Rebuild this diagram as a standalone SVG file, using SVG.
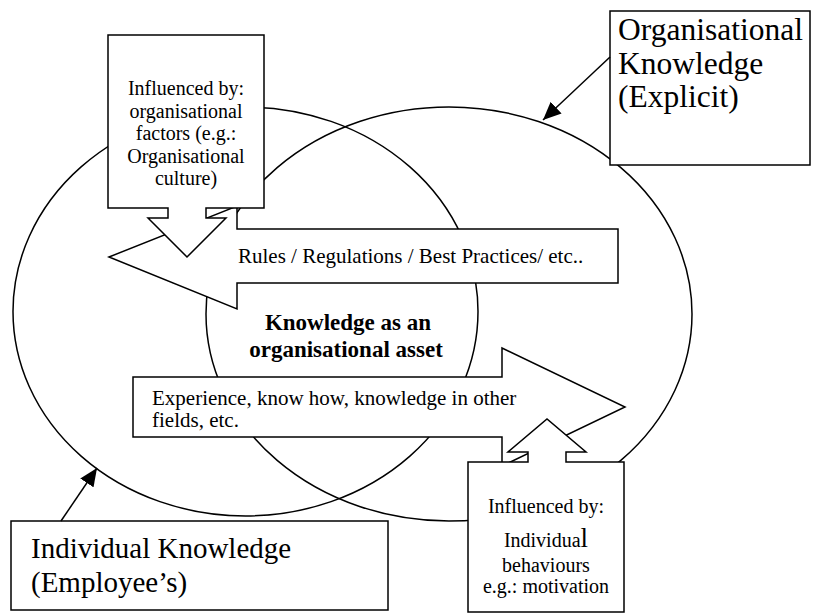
<svg xmlns="http://www.w3.org/2000/svg" width="820" height="614" viewBox="0 0 820 614">
  <style>
    .ln { fill: none; stroke: #000; stroke-width: 1.5; }
    .shape { fill: #fff; stroke: #000; stroke-width: 1.5; stroke-linejoin: miter; }
    .t { font-family: "Liberation Serif", "Times New Roman", serif; fill: #000; }
    .c20 { font-size: 20px; text-anchor: middle; }
    .a21 { font-size: 21px; }
    .bold { font-size: 23px; font-weight: bold; text-anchor: middle; }
    .big1 { font-size: 29px; }
    .big2 { font-size: 31.5px; }
  </style>
  <defs>
    <marker id="head" markerUnits="userSpaceOnUse" markerWidth="18" markerHeight="16" refX="18" refY="8" orient="auto">
      <path d="M0,0 L18,8 L0,16 Z" fill="#000"/>
    </marker>
  </defs>
  <rect width="820" height="614" fill="#fff"/>

  <g id="ellipse-individual">
    <ellipse class="ln" cx="245.5" cy="311.5" rx="232.5" ry="204.5"/>
  </g>
  <g id="ellipse-organisational">
    <ellipse class="ln" cx="449" cy="314" rx="243" ry="207"/>
  </g>

  <g id="center-label">
    <text class="t bold" x="348" y="330">Knowledge as an</text>
    <text class="t bold" x="346" y="357">organisational asset</text>
  </g>

  <g id="arrow-rules">
    <polygon class="shape" points="109,257 237,206 237,229 618,229 618,283 237,283 237,309"/>
    <text class="t a21" x="238" y="263">Rules / Regulations / Best Practices/ etc..</text>
  </g>

  <g id="arrow-experience">
    <polygon class="shape" points="133,377 502,377 502,348 625,407 502,466 502,437 133,437"/>
    <text class="t a21" x="152" y="405">Experience, know how, knowledge in other</text>
    <text class="t a21" x="152" y="427">fields, etc.</text>
  </g>

  <g id="callout-organisational-factors">
    <path class="shape" d="M108,35 H264 V208 H206 V218 H226 L187,257 L148,218 H168 V208 H108 Z"/>
    <text class="t c20" x="186" y="95">Influenced by:</text>
    <text class="t c20" x="186" y="117.5">organisational</text>
    <text class="t c20" x="186" y="140">factors (e.g.:</text>
    <text class="t c20" x="186" y="162.5">Organisational</text>
    <text class="t c20" x="186" y="185">culture)</text>
  </g>

  <g id="callout-individual-behaviours">
    <path class="shape" d="M468,612 V462 H528 V452 H508 L547,419 L586,452 H566 V462 H624 V612 Z"/>
    <text class="t c20" x="546" y="513">Influenced by:</text>
    <text class="t c20" x="546" y="547">Individua<tspan font-size="27">l</tspan></text>
    <text class="t c20" x="546" y="572">behaviours</text>
    <text class="t c20" x="546" y="593">e.g.: motivation</text>
  </g>

  <g id="box-individual">
    <rect class="shape" x="11" y="521" width="377" height="89"/>
    <text class="t big1" x="31" y="558">Individual Knowledge</text>
    <text class="t big1" x="31" y="592">(Employee’s)</text>
  </g>

  <g id="box-organisational">
    <rect class="shape" x="610" y="11" width="200" height="154"/>
    <text class="t big2" x="618" y="40">Organisational</text>
    <text class="t big2" x="618" y="74">Knowledge</text>
    <text class="t big2" x="618" y="107">(Explicit)</text>
  </g>

  <g id="connectors">
    <line class="ln" x1="610" y1="57" x2="543" y2="120" marker-end="url(#head)"/>
    <line class="ln" x1="61" y1="521" x2="97" y2="468" marker-end="url(#head)"/>
  </g>
</svg>
